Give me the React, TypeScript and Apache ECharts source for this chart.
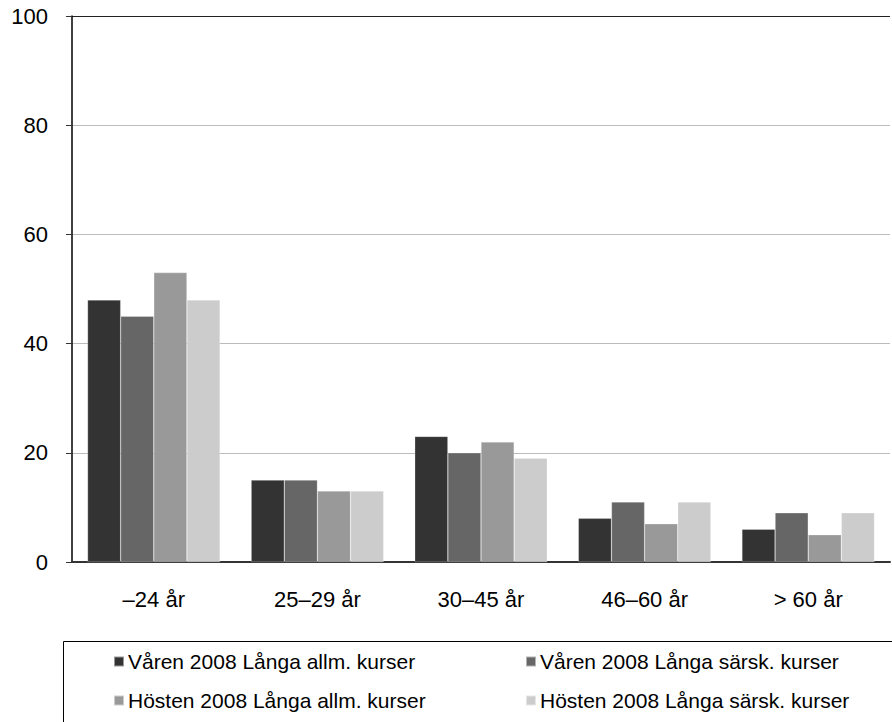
import React, { useEffect, useRef } from "react";
import * as echarts from "echarts";

const categories = ["–24 år", "25–29 år", "30–45 år", "46–60 år", "> 60 år"];
const seriesNames = [
  "Våren 2008 Långa allm. kurser",
  "Våren 2008 Långa särsk. kurser",
  "Hösten 2008 Långa allm. kurser",
  "Hösten 2008 Långa särsk. kurser",
];
const varenAllm = [48, 15, 23, 8, 6];
const varenSarsk = [45, 15, 20, 11, 9];
const hostenAllm = [53, 13, 22, 7, 5];
const hostenSarsk = [48, 13, 19, 11, 9];
const colors = ["#333333", "#666666", "#999999", "#cccccc"];
const yTicks = [0, 20, 40, 60, 80, 100];

export default function App() {
  const ref = useRef<HTMLDivElement>(null);
  useEffect(() => {
    if (!ref.current) return;
    const chart = echarts.init(ref.current, null, { renderer: "svg" });
    const values = [varenAllm, varenSarsk, hostenAllm, hostenSarsk];
    const font = "'Liberation Sans', Arial, sans-serif";
    const legendPos = [
      { left: 113, top: 651 },
      { left: 525, top: 651 },
      { left: 113, top: 690 },
      { left: 525, top: 690 },
    ];
    chart.setOption({
      animation: false,
      textStyle: { fontFamily: font },
      grid: { left: 72, top: 16, right: 2, bottom: 160 },
      xAxis: {
        type: "category",
        data: categories,
        axisLine: { lineStyle: { color: "#333", width: 2 } },
        axisTick: { show: false },
        axisLabel: { color: "#000", fontSize: 22, margin: 26, fontFamily: font },
      },
      yAxis: {
        type: "value",
        min: yTicks[0],
        max: yTicks[yTicks.length - 1],
        interval: 20,
        axisLine: { show: true, lineStyle: { color: "#000", width: 1.5 } },
        axisTick: { show: true, length: 6, lineStyle: { color: "#333" } },
        axisLabel: { color: "#000", fontSize: 22, margin: 24, fontFamily: font },
        splitLine: {
          lineStyle: {
            color: ["#bbbbbb", "#bbbbbb", "#bbbbbb", "#bbbbbb", "#bbbbbb", "#222222"],
            width: 1,
          },
        },
      },
      legend: seriesNames.map((n, i) => ({
        data: [n],
        left: legendPos[i].left,
        top: legendPos[i].top,
        icon: "rect",
        itemWidth: 10,
        itemHeight: 10,
        itemGap: 0,
        padding: 0,
        textStyle: { color: "#000", fontSize: 21, fontFamily: font, padding: [0, 0, 0, -1] },
      })),
      graphic: [
        {
          type: "rect",
          shape: { x: 63.5, y: 641.5, width: 900, height: 120 },
          style: { fill: "none", stroke: "#000", lineWidth: 1 },
          silent: true,
        },
      ],
      series: seriesNames.map((n, i) => ({
        name: n,
        type: "bar",
        data: values[i],
        barGap: "0%",
        barCategoryGap: "19%",
        itemStyle: { color: colors[i], borderColor: "rgba(255,255,255,0.5)", borderWidth: 0.5 },
      })),
    });
    return () => chart.dispose();
  }, []);
  return (
    <div
      ref={ref}
      style={{ position: "absolute", left: 0, top: 0, width: 892, height: 722 }}
    />
  );
}
